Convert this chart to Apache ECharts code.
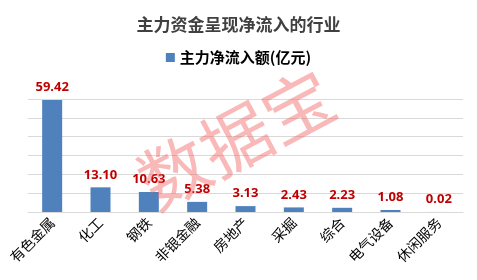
<!DOCTYPE html>
<html><head><meta charset="utf-8">
<script src="https://cdn.jsdelivr.net/npm/echarts@6/dist/echarts.min.js"></script>
<style>html,body{margin:0;padding:0;background:#fff}#c{width:477px;height:280px}</style>
</head><body><div id="c"></div>
<script>
const categories = ['有色金属','化工','钢铁','非银金融','房地产','采掘','综合','电气设备','休闲服务'];
const values = [59.42, 13.10, 10.63, 5.38, 3.13, 2.43, 2.23, 1.08, 0.02];
const seriesName = '主力净流入额(亿元)';
const titleText = '主力资金呈现净流入的行业';
const watermark = '数据宝';

const chart = echarts.init(document.getElementById('c'));
chart.setOption({
  animation: false,
  backgroundColor: '#fff',
  title: { text: titleText, left: 'center', top: 11,
    textStyle: { fontFamily: 'Noto Sans CJK SC', fontSize: 17, fontWeight: 'bold', color: '#404040' } },
  legend: { top: 45, left: 'center', itemWidth: 9, itemHeight: 9, itemGap: 4,
    icon: 'rect',
    textStyle: { fontFamily: 'Noto Sans CJK SC', fontSize: 15, fontWeight: 'bold', color: '#000' },
    data: [seriesName] },
  grid: { left: 28, right: 14, top: 99, bottom: 68 },
  xAxis: { type: 'category', data: categories,
    axisLine: { lineStyle: { color: '#d9d9d9' } }, axisTick: { show: false },
    axisLabel: { rotate: 45, fontFamily: 'Noto Sans CJK SC', fontSize: 14, color: '#000', margin: 8, interval: 0 } },
  yAxis: { type: 'value', min: 0, max: 60, interval: 10,
    axisLabel: { show: false }, axisLine: { show: false }, axisTick: { show: false },
    splitLine: { lineStyle: { color: '#d9d9d9' } } },
  series: [{ name: seriesName, type: 'bar', data: values, barWidth: 20,
    itemStyle: { color: '#4f81bd' },
    label: { show: true, position: 'top', distance: 6, formatter: p => p.value.toFixed(2),
      fontFamily: 'Noto Sans', fontSize: 13, fontWeight: 'bold', color: '#c00000' } }],
  graphic: [{ type: 'text', x: 236, y: 139, rotation: 28 * Math.PI / 180,
    style: { text: watermark, fontFamily: 'Noto Sans CJK SC', fontWeight: 'normal', fontSize: 70, fill: 'rgba(242,100,100,0.45)',
      align: 'center', verticalAlign: 'middle' }, z: 100 }]
});
</script></body></html>
